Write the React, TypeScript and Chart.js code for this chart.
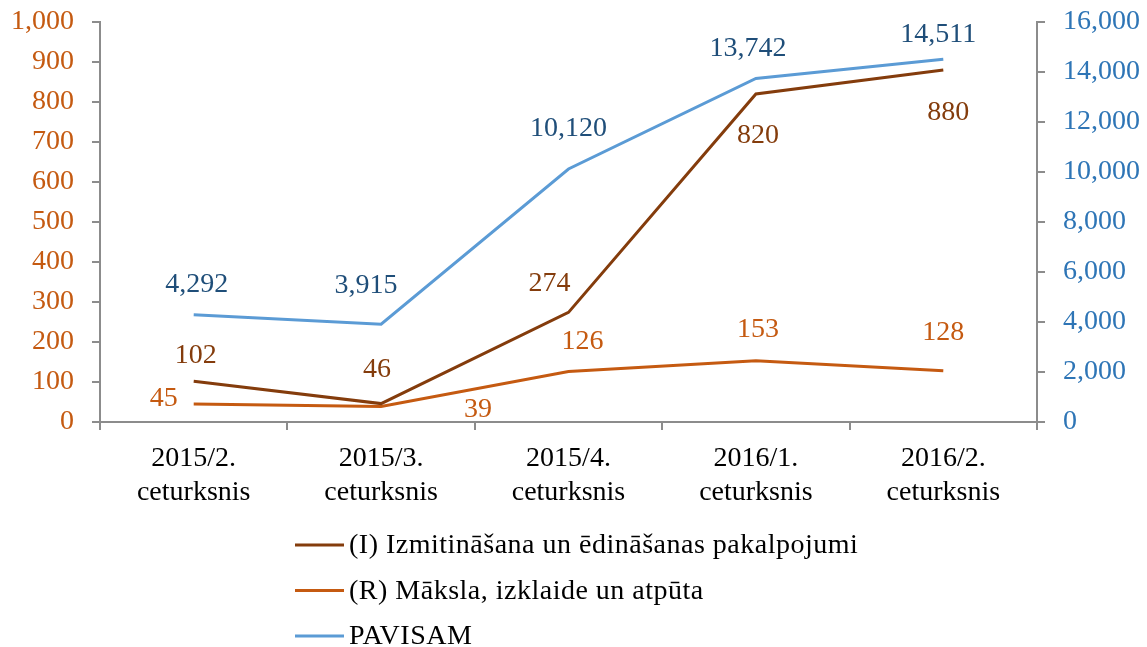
import React, { useEffect, useRef } from 'react';
import { Chart, registerables } from 'chart.js';

Chart.register(...registerables);

const categories: string[][] = [
  ['2015/2.', 'ceturksnis'],
  ['2015/3.', 'ceturksnis'],
  ['2015/4.', 'ceturksnis'],
  ['2016/1.', 'ceturksnis'],
  ['2016/2.', 'ceturksnis'],
];
const seriesNames = [
  '(I) Izmitināšana un ēdināšanas pakalpojumi',
  '(R) Māksla, izklaide un atpūta',
  'PAVISAM',
];
const seriesI = [102, 46, 274, 820, 880];
const seriesR = [45, 39, 126, 153, 128];
const seriesTotal = [4292, 3915, 10120, 13742, 14511];
const leftAxisMax = 1000;
const leftAxisStep = 100;
const rightAxisMax = 16000;
const rightAxisStep = 2000;

const FONT = "'Liberation Serif', 'Times New Roman', serif";
const FS = 28;
const colI = '#843C0C';
const colR = '#C55A11';
const colTotal = '#5B9BD5';
const colTotalLabel = '#1F4E79';
const axisGray = '#8C8C8C';

const fmt = (v: number) => Number(v).toLocaleString('en-US');

// label offsets (dx, dy) relative to each point
const offsI = [[2, -26], [-4, -34], [-19, -29], [2, 42], [5, 43]];
const offsR = [[-30, -5], [97, 3], [14, -30], [2, -31], [0, -38]];
const offsTotal = [[3, -30], [-15, -38], [0, -40], [-8, -30], [-5, -25]];

const labelPlugin = {
  id: 'pointLabels',
  afterDatasetsDraw(chart: any) {
    const ctx = chart.ctx;
    ctx.save();
    ctx.font = `${FS}px ${FONT}`;
    ctx.textAlign = 'center';
    ctx.textBaseline = 'middle';
    chart.data.datasets.forEach((ds: any, di: number) => {
      const meta = chart.getDatasetMeta(di);
      ctx.fillStyle = ds.labelColor;
      meta.data.forEach((el: any, i: number) => {
        const o = ds.labelOffsets[i];
        ctx.fillText(fmt(ds.data[i]), el.x + o[0], el.y + o[1]);
      });
    });
    ctx.restore();
  },
};

const legendPlugin = {
  id: 'vertLegend',
  afterDraw(chart: any) {
    const ctx = chart.ctx;
    const base = chart.chartArea.bottom;
    ctx.save();
    ctx.font = `${FS}px ${FONT}`;
    ctx.textAlign = 'left';
    ctx.textBaseline = 'middle';
    try { (ctx as any).letterSpacing = '0.5px'; } catch (e) {}
    chart.data.datasets.forEach((ds: any, i: number) => {
      const y = base + 123 + i * 45.5;
      ctx.strokeStyle = ds.borderColor;
      ctx.lineWidth = 3;
      ctx.beginPath();
      ctx.moveTo(295, y);
      ctx.lineTo(344, y);
      ctx.stroke();
      ctx.fillStyle = '#000';
      ctx.fillText(ds.label, 349, y + 1);
    });
    ctx.restore();
  },
};

const noPad = (s: any) => {
  s.paddingTop = 0;
  s.paddingBottom = 0;
};

export default function App() {
  const ref = useRef<HTMLCanvasElement>(null);
  useEffect(() => {
    document.body.style.margin = '0';
    const chart = new Chart(ref.current!, {
      type: 'line',
      data: {
        labels: categories,
        datasets: [
          {
            label: seriesNames[0],
            data: seriesI,
            borderColor: colI,
            backgroundColor: colI,
            yAxisID: 'y',
            labelColor: colI,
            labelOffsets: offsI,
          } as any,
          {
            label: seriesNames[1],
            data: seriesR,
            borderColor: colR,
            backgroundColor: colR,
            yAxisID: 'y',
            labelColor: colR,
            labelOffsets: offsR,
          } as any,
          {
            label: seriesNames[2],
            data: seriesTotal,
            borderColor: colTotal,
            backgroundColor: colTotal,
            yAxisID: 'y1',
            labelColor: colTotalLabel,
            labelOffsets: offsTotal,
          } as any,
        ],
      },
      options: {
        responsive: false,
        animation: false,
        layout: { padding: { top: 22, bottom: 130, left: 0, right: 0 } },
        elements: {
          point: { radius: 0, hoverRadius: 0 },
          line: { borderWidth: 3, tension: 0, borderCapStyle: 'butt', borderJoinStyle: 'miter' },
        },
        plugins: { legend: { display: false }, tooltip: { enabled: false } },
        scales: {
          x: {
            type: 'category',
            offset: true,
            grid: { display: true, drawOnChartArea: false, offset: true, tickLength: 8, color: axisGray, lineWidth: 2 },
            border: { display: true, color: axisGray, width: 2 },
            ticks: { color: '#000', font: { family: FONT, size: FS, lineHeight: 1.2 }, padding: 12, maxRotation: 0, autoSkip: false },
            afterFit: (s: any) => { s.height = 95; s.paddingLeft = 0; s.paddingRight = 0; },
          },
          y: {
            position: 'left',
            min: 0,
            max: leftAxisMax,
            grid: { display: true, drawOnChartArea: false, tickLength: 8, color: axisGray, lineWidth: 2 },
            border: { display: true, color: axisGray, width: 2 },
            ticks: { stepSize: leftAxisStep, color: colR, font: { family: FONT, size: FS }, padding: 18, callback: (v: any) => fmt(v) },
            afterFit: (s: any) => { s.width = 100; noPad(s); },
          },
          y1: {
            position: 'right',
            min: 0,
            max: rightAxisMax,
            grid: { display: true, drawOnChartArea: false, tickLength: 8, color: axisGray, lineWidth: 2 },
            border: { display: true, color: axisGray, width: 2 },
            ticks: { stepSize: rightAxisStep, color: '#2E75B6', font: { family: FONT, size: FS }, padding: 18, callback: (v: any) => fmt(v) },
            afterFit: (s: any) => { s.width = 110; noPad(s); },
          },
        },
      },
      plugins: [labelPlugin, legendPlugin],
    });
    return () => chart.destroy();
  }, []);
  return <canvas ref={ref} width={1147} height={647} style={{ display: 'block' }} />;
}
